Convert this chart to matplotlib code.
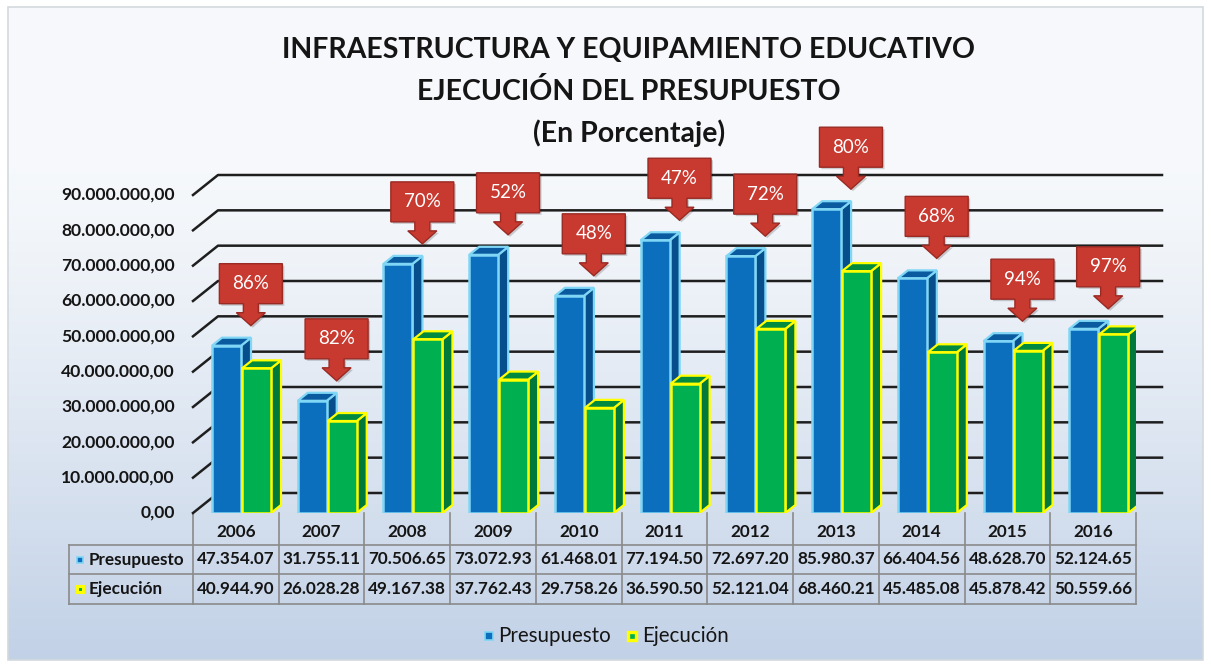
import numpy as np
import matplotlib
matplotlib.use('Agg')
import matplotlib.pyplot as plt
from matplotlib.patches import Polygon, Rectangle

# data
years = ['2006', '2007', '2008', '2009', '2010', '2011', '2012', '2013', '2014', '2015', '2016']
presupuesto = [47354070, 31755110, 70506650, 73072930, 61468010, 77194500,
               72697200, 85980370, 66404560, 48628700, 52124650]
ejecucion = [40944900, 26028280, 49167380, 37762430, 29758260, 36590500,
             52121040, 68460210, 45485080, 45878420, 50559660]
presupuesto_txt = ['47.354.07', '31.755.11', '70.506.65', '73.072.93', '61.468.01', '77.194.50',
                   '72.697.20', '85.980.37', '66.404.56', '48.628.70', '52.124.65']
ejecucion_txt = ['40.944.90', '26.028.28', '49.167.38', '37.762.43', '29.758.26', '36.590.50',
                 '52.121.04', '68.460.21', '45.485.08', '45.878.42', '50.559.66']
porcentaje = ['86%', '82%', '70%', '52%', '48%', '47%', '72%', '80%', '68%', '94%', '97%']
y_ticks = list(range(0, 90000001, 10000000))

W, H = 1211, 664
FONT = 'Lato'

BLUE = '#0b6fbd'
BLUE_SIDE = '#064f8c'
BLUE_TOP = '#0a5aa0'
BLUE_EDGE = '#7fd6f5'
GREEN = '#00b050'
GREEN_SIDE = '#00793a'
GREEN_TOP = '#008a40'
GREEN_EDGE = '#ffff00'
RED = '#c8392f'
RED_EDGE = '#9a2a24'

fig = plt.figure(figsize=(W / 100, H / 100), dpi=100)
fig.patch.set_facecolor('white')

# background axes in pixel coordinates
bg = fig.add_axes([0, 0, 1, 1])
bg.set_xlim(0, W)
bg.set_ylim(H, 0)
bg.axis('off')
grad = np.linspace(0, 1, 256).reshape(-1, 1)
top_c = np.array([0.965, 0.975, 0.985])
bot_c = np.array([0.76, 0.82, 0.905])
mix = np.clip((grad - 0.25) / 0.75, 0, 1) ** 1.2
img = top_c * (1 - mix)[..., None] + bot_c * mix[..., None]
img = img.reshape(256, 1, 3)
bg.imshow(img, extent=[8, 1203, 660, 7], aspect='auto', zorder=0)
bg.add_patch(Rectangle((8, 7), 1195, 653, fill=False, edgecolor='#d4d9de', lw=1.2, zorder=1))

# title
title_lines = ['INFRAESTRUCTURA Y EQUIPAMIENTO EDUCATIVO',
               'EJECUCIÓN DEL PRESUPUESTO',
               '(En Porcentaje)']
for txt, yy in zip(title_lines, [50, 91, 133]):
    bg.text(629, yy, txt, ha='center', va='center', fontsize=20.5, fontweight='bold',
            family=FONT, color='#151515', zorder=5)

# main plot axes
x0_px, x1_px, y0_px, ytop_px = 193, 1136, 513, 195
ax = fig.add_axes([x0_px / W, 1 - y0_px / H, (x1_px - x0_px) / W, (y0_px - ytop_px) / H])
ax.set_xlim(-0.5, len(years) - 0.5)
ax.set_ylim(0, 90000000)
ax.axis('off')
ax.patch.set_alpha(0)

ux = len(years) / (x1_px - x0_px)
uy = 90000000 / (y0_px - ytop_px)

# gridlines with 3D wall offset
wall_dx, wall_dy = 25 * ux, 20 * uy
grid_right = -0.5 + (1162 - x0_px) * ux
for v in y_ticks:
    ax.plot([-0.5, -0.5 + wall_dx, grid_right], [v, v + wall_dy, v + wall_dy],
            color='#1e1e1e', lw=1.8, clip_on=False, zorder=1)
    lab = f'{v:,.2f}'.replace(',', 'X').replace('.', ',').replace('X', '.')
    ax.text(-0.5 - 18 * ux, v, lab, ha='right', va='center', fontsize=12.6,
            fontweight='bold', family=FONT, color='#151515')

# 3D bars
bw = 29 * ux
dx, dy = 10 * ux, 8 * uy


def bar3d(xc, h, front, side, top, edge, z):
    xl, xr = xc - bw / 2, xc + bw / 2
    ax.add_patch(Polygon([(xr, 0), (xr + dx, dy), (xr + dx, h + dy), (xr, h)],
                         closed=True, facecolor=side, edgecolor=edge, lw=1.6, zorder=z))
    ax.add_patch(Polygon([(xl, h), (xl + dx, h + dy), (xr + dx, h + dy), (xr, h)],
                         closed=True, facecolor=top, edgecolor=edge, lw=1.6, zorder=z))
    ax.bar(xc, h, width=bw, color=front, edgecolor=edge, lw=1.8, zorder=z + 0.5)


xs = np.arange(len(years))
for i in xs:
    bar3d(i - 9.35 * ux, presupuesto[i], BLUE, BLUE_SIDE, BLUE_TOP, BLUE_EDGE, 3)
    bar3d(i + 20.65 * ux, ejecucion[i], GREEN, GREEN_SIDE, GREEN_TOP, GREEN_EDGE, 5)

# red callouts with percentage
bx_w, bx_h = 63, 40
sh_w, sh_h = 15, 9
hd_w, hd_h = 29, 13
for i in xs:
    tx = i + 15 * ux
    ty = presupuesto[i] + 20 * uy
    pts_px = [(0, 0), (-hd_w / 2, hd_h), (-sh_w / 2, hd_h), (-sh_w / 2, hd_h + sh_h),
              (-bx_w / 2, hd_h + sh_h), (-bx_w / 2, hd_h + sh_h + bx_h),
              (bx_w / 2, hd_h + sh_h + bx_h), (bx_w / 2, hd_h + sh_h),
              (sh_w / 2, hd_h + sh_h), (sh_w / 2, hd_h), (hd_w / 2, hd_h)]
    shadow = [(tx + (px + 2) * ux, ty + (py - 2) * uy) for px, py in pts_px]
    ax.add_patch(Polygon(shadow, closed=True, facecolor='#000000', alpha=0.18,
                         lw=0, zorder=7, clip_on=False))
    pts = [(tx + px * ux, ty + py * uy) for px, py in pts_px]
    ax.add_patch(Polygon(pts, closed=True, facecolor=RED, edgecolor=RED_EDGE,
                         lw=1.0, zorder=8, clip_on=False))
    ax.text(tx, ty + (hd_h + sh_h + bx_h / 2) * uy, porcentaje[i], ha='center', va='center',
            fontsize=13.5, color='white', family=FONT, zorder=9, clip_on=False)

# data table below the plot
col_w = (x1_px - x0_px) / len(years)
tbl_left = 69
row_y = [513, 545, 574, 604]
line_c = '#8a8a8a'
for k in range(len(years) + 1):
    xk = x0_px + k * col_w
    bg.plot([xk, xk], [row_y[0], row_y[3]], color=line_c, lw=1.2, zorder=3)
for yy in row_y[1:]:
    bg.plot([tbl_left, x1_px], [yy, yy], color=line_c, lw=1.2, zorder=3)
bg.plot([tbl_left, tbl_left], [row_y[1], row_y[3]], color=line_c, lw=1.2, zorder=3)

r1 = (row_y[1] + row_y[2]) / 2
r2 = (row_y[2] + row_y[3]) / 2
for k, yr in enumerate(years):
    xc = x0_px + (k + 0.5) * col_w
    bg.text(xc, 532, yr, ha='center', va='center', fontsize=12.3, fontweight='bold',
            family=FONT, color='#151515', zorder=4)
    bg.text(xc, r1, presupuesto_txt[k], ha='center', va='center', fontsize=12.3,
            fontweight='bold', family=FONT, color='#151515', zorder=4)
    bg.text(xc, r2, ejecucion_txt[k], ha='center', va='center', fontsize=12.3,
            fontweight='bold', family=FONT, color='#151515', zorder=4)

bg.add_patch(Rectangle((76.5, r1 - 3), 6, 6, facecolor=BLUE, edgecolor=BLUE_EDGE, lw=1.2, zorder=4))
bg.text(89, r1, 'Presupuesto', ha='left', va='center', fontsize=12.3, fontweight='bold',
        family=FONT, color='#151515', zorder=4)
bg.add_patch(Rectangle((76.5, r2 - 3), 6, 6, facecolor=GREEN, edgecolor=GREEN_EDGE, lw=2.2, zorder=4))
bg.text(89, r2, 'Ejecución', ha='left', va='center', fontsize=12.3, fontweight='bold',
        family=FONT, color='#151515', zorder=4)

# legend
bg.add_patch(Rectangle((485, 632), 8, 8, facecolor=BLUE, edgecolor=BLUE_EDGE, lw=1.2, zorder=4))
bg.text(498, 636, 'Presupuesto', ha='left', va='center', fontsize=14.8,
        family=FONT, color='#151515', zorder=4)
bg.add_patch(Rectangle((628, 632), 8, 8, facecolor=GREEN, edgecolor=GREEN_EDGE, lw=2.4, zorder=4))
bg.text(642, 636, 'Ejecución', ha='left', va='center', fontsize=14.8,
        family=FONT, color='#151515', zorder=4)

fig.savefig('out.png', dpi=100)
